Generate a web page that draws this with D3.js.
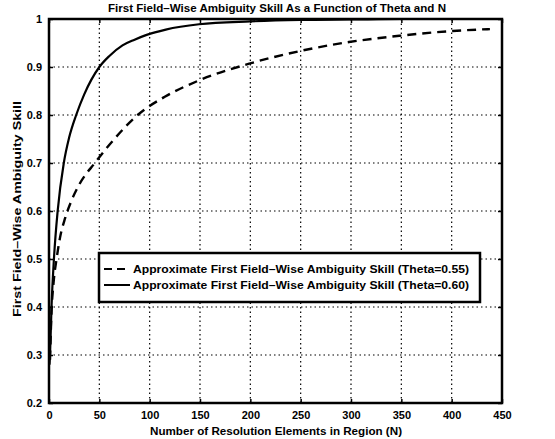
<!DOCTYPE html>
<html>
<head>
<meta charset="utf-8">
<script src="https://cdn.jsdelivr.net/npm/d3@7"></script>
<style>
  body { margin: 0; background: #fff; }
  text { font-family: "Liberation Sans", Arial, sans-serif; font-weight: bold; }
</style>
</head>
<body>
<div id="chart"></div>
<script>
// values
var nSolid = [0.5, 1, 2.5, 4.9, 8.6, 14.7, 20, 27, 35, 50, 60, 73, 85, 97, 116, 149, 200, 250, 300, 350, 400, 440];
var skillSolid = [0.28, 0.30, 0.40, 0.50, 0.60, 0.70, 0.753, 0.80, 0.843, 0.90, 0.923, 0.945, 0.957, 0.967, 0.978, 0.989, 0.995, 0.998, 0.999, 1.0, 1.0, 1.0];
var nDashed = [1, 2.5, 4.5, 7.5, 11, 16, 22, 30, 45.5, 60, 88, 115, 149, 199, 251, 298, 348, 401, 438];
var skillDashed = [0.29, 0.39, 0.45, 0.50, 0.545, 0.585, 0.62, 0.655, 0.70, 0.738, 0.80, 0.838, 0.872, 0.907, 0.934, 0.952, 0.965, 0.975, 0.979];
var xTicks = [0, 50, 100, 150, 200, 250, 300, 350, 400, 450];
var yTicks = [0.2, 0.3, 0.4, 0.5, 0.6, 0.7, 0.8, 0.9, 1];
var legendLabels = ["Approximate First Field\u2013Wise Ambiguity Skill (Theta=0.55)",
                    "Approximate First Field\u2013Wise Ambiguity Skill (Theta=0.60)"];

var svg = d3.select("#chart").append("svg").attr("width", 555).attr("height", 439),
margin = {top: 19, right: 53, bottom: 36, left: 49},
width = 555 - margin.left - margin.right,
height = 439 - margin.top - margin.bottom,
g = svg.append("g").attr("transform", "translate(" + margin.left + "," + margin.top + ")");

var x = d3.scaleLinear().domain([0, 450]).range([0, width]);
var y = d3.scaleLinear().domain([0.2, 1]).range([height, 0]);

// grid
g.selectAll(".vgrid").data(xTicks.slice(1, -1)).enter().append("line")
    .attr("x1", d => x(d)).attr("x2", d => x(d))
    .attr("y1", 0).attr("y2", height)
    .attr("stroke", "#000").attr("stroke-width", 1.2).attr("stroke-dasharray", "1.5,3");
g.selectAll(".hgrid").data(yTicks.slice(1, -1)).enter().append("line")
    .attr("x1", 0).attr("x2", width)
    .attr("y1", d => y(d)).attr("y2", d => y(d))
    .attr("stroke", "#000").attr("stroke-width", 1.2).attr("stroke-dasharray", "1.5,3");

// axes with inward ticks
var xAxis = g.append("g").attr("transform", "translate(0," + height + ")")
    .call(d3.axisBottom(x).tickValues(xTicks).tickSizeInner(-4).tickSizeOuter(0).tickPadding(8));
var xTop = g.append("g")
    .call(d3.axisTop(x).tickValues(xTicks).tickSizeInner(-4).tickSizeOuter(0).tickFormat(""));
var yAxis = g.append("g")
    .call(d3.axisLeft(y).tickValues(yTicks).tickSizeInner(-4).tickSizeOuter(0).tickPadding(7).tickFormat(d3.format("")));
var yRight = g.append("g").attr("transform", "translate(" + width + ",0)")
    .call(d3.axisRight(y).tickValues(yTicks).tickSizeInner(-4).tickSizeOuter(0).tickFormat(""));
[xAxis, xTop, yAxis, yRight].forEach(function(a) {
    a.select(".domain").remove();
    a.selectAll("line").attr("stroke", "#000").attr("stroke-width", 1.5);
    a.selectAll("text").attr("font-size", 11).attr("fill", "#000")
        .style("font-family", "'Liberation Sans', Arial, sans-serif").style("font-weight", "bold");
});

// curves
var line = d3.line().x(d => x(d[0])).y(d => y(d[1])).curve(d3.curveMonotoneX);
g.append("path").datum(d3.zip(nDashed, skillDashed))
    .attr("d", line).attr("fill", "none").attr("stroke", "#000")
    .attr("stroke-width", 2.4).attr("stroke-dasharray", "9,6");
g.append("path").datum(d3.zip(nSolid, skillSolid))
    .attr("d", line).attr("fill", "none").attr("stroke", "#000")
    .attr("stroke-width", 2.2);

// frame
g.append("rect").attr("width", width).attr("height", height)
    .attr("fill", "none").attr("stroke", "#000").attr("stroke-width", 2.5);

// legend
var lg = svg.append("g").attr("transform", "translate(99,253)");
lg.append("rect").attr("width", 381).attr("height", 49)
    .attr("fill", "#fff").attr("stroke", "#000").attr("stroke-width", 2.5);
legendLabels.forEach(function(t, i) {
    var yy = 16 + i * 16;
    lg.append("line").attr("x1", 5).attr("x2", 31).attr("y1", yy).attr("y2", yy)
        .attr("stroke", "#000").attr("stroke-width", 2)
        .attr("stroke-dasharray", i == 0 ? "8,5" : null);
    lg.append("text").attr("x", 34).attr("y", yy + 4).attr("font-size", 11)
        .attr("textLength", 336).attr("lengthAdjust", "spacingAndGlyphs").text(t);
});

// titles
svg.append("text").attr("x", 277).attr("y", 12).attr("text-anchor", "middle")
    .attr("font-size", 11).attr("textLength", 338).attr("lengthAdjust", "spacingAndGlyphs")
    .text("First Field\u2013Wise Ambiguity Skill As a Function of Theta and N");
svg.append("text").attr("x", 276).attr("y", 435).attr("text-anchor", "middle")
    .attr("font-size", 11).attr("textLength", 252).attr("lengthAdjust", "spacingAndGlyphs")
    .text("Number of Resolution Elements in Region (N)");
svg.append("text").attr("transform", "translate(21,209) rotate(-90)").attr("text-anchor", "middle")
    .attr("font-size", 11).attr("textLength", 216).attr("lengthAdjust", "spacingAndGlyphs")
    .text("First Field\u2013Wise Ambiguity Skill");
</script>
</body>
</html>
